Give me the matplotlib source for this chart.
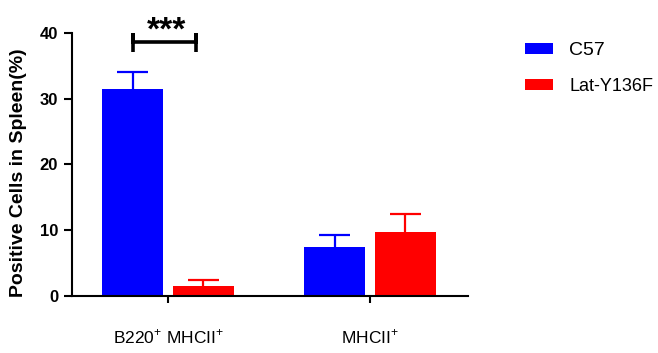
import numpy as np
import matplotlib.pyplot as plt
from matplotlib.patches import Patch

plt.rcParams['font.family'] = ['Liberation Sans', 'DejaVu Sans']
plt.rcParams['mathtext.fontset'] = 'custom'
plt.rcParams['mathtext.rm'] = 'Liberation Sans'

# data
groups = ['B220$^{+}$ MHCII$^{+}$', 'MHCII$^{+}$']
series = ['C57', 'Lat-Y136F']
c57_mean = [31.5, 7.45]
c57_err = [2.6, 1.85]
lat_mean = [1.5, 9.7]
lat_err = [0.9, 2.8]
colors = ['#0000ff', '#ff0000']

fig = plt.figure(figsize=(6.58, 3.53), dpi=100)
ax = fig.add_axes([0.1094, 0.1615, 0.6016, 0.745])

x = np.arange(len(groups))
w = 0.302
off = 0.175
cap = 0.077
for i, (m, e) in enumerate([(c57_mean, c57_err), (lat_mean, lat_err)]):
    pos = x + (-off if i == 0 else off)
    m = np.array(m)
    top = m + np.array(e)
    ax.bar(pos, m, width=w, color=colors[i], zorder=2)
    # upper error bars only
    ax.vlines(pos, m, top, color=colors[i], lw=1.6, zorder=1)
    ax.hlines(top, pos - cap, pos + cap, color=colors[i], lw=1.6, zorder=1)

# significance bracket
x1, x2 = -0.173, 0.139
ax.plot([x1, x1, x1, x2, x2, x2], [37.1, 40, 38.6, 38.6, 40, 37.1],
        color='black', lw=2.6, clip_on=False, solid_capstyle='butt', solid_joinstyle='miter')
ax.text((x1 + x2) / 2 + 0.01, 37.9, '***', ha='center', va='bottom', fontsize=24,
        fontweight='bold', clip_on=False)

ax.set_xlim(-0.475, 1.485)
ax.set_ylim(0, 40)
ax.set_yticks([0, 10, 20, 30, 40])
ax.set_xticks(x)
ax.set_xticklabels(groups, fontsize=12.5)
for lab in ax.get_yticklabels():
    lab.set_fontweight('bold')
    lab.set_fontsize(12)
ax.tick_params(axis='y', length=6, width=1.5, pad=4)
ax.tick_params(axis='x', length=5, width=1.5, pad=18)
ax.set_ylabel('Positive Cells in Spleen(%)', fontsize=14, fontweight='bold')
ax.yaxis.set_label_coords(-0.114, 0.47)

for s in ['top', 'right']:
    ax.spines[s].set_visible(False)
for s in ['left', 'bottom']:
    ax.spines[s].set_linewidth(1.5)

handles = [Patch(facecolor=c, edgecolor='none') for c in colors]
leg = fig.legend(handles, series, loc='upper left', bbox_to_anchor=(0.773, 0.927),
                 frameon=False, fontsize=13, handlelength=1.55, handleheight=0.55,
                 labelspacing=1.05, handletextpad=0.9)
leg.get_texts()[0].set_fontsize(14)

fig.savefig('out.png', dpi=100)
